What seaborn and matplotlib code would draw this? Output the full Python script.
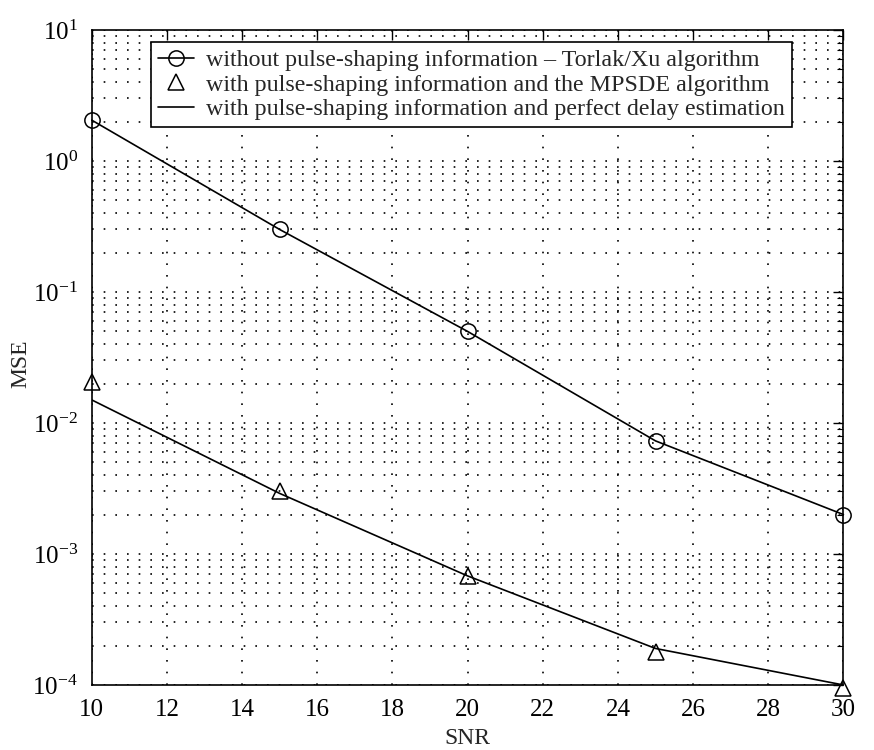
import numpy as np
import pandas as pd
import matplotlib
matplotlib.use("Agg")
import matplotlib.pyplot as plt
import seaborn as sns
from matplotlib.lines import Line2D
from matplotlib.ticker import LogLocator, NullFormatter, FixedLocator, FuncFormatter

# ---- data ----
snr = [10, 15, 20, 25, 30]
mse_torlak_xu = [2.05, 0.30, 0.050, 0.0073, 0.0020]
mse_mpsde = [0.0205, 0.0030, 0.00068, 0.00018, 0.000095]
mse_perfect = [0.0150, 0.0029, 0.00068, 0.00019, 0.000100]

labels = [
    "without pulse-shaping information \u2013 Torlak/Xu algorithm",
    "with pulse-shaping information and the MPSDE algorithm",
    "with pulse-shaping information and perfect delay estimation",
]
x_ticks = [10, 12, 14, 16, 18, 20, 22, 24, 26, 28, 30]

df = pd.DataFrame({"SNR": snr, "torlak": mse_torlak_xu,
                   "mpsde": mse_mpsde, "perfect": mse_perfect})

sns.set_theme(style="white")
plt.rcParams["font.family"] = ["Liberation Serif", "DejaVu Serif"]
plt.rcParams["mathtext.fontset"] = "custom"
plt.rcParams["mathtext.rm"] = "Liberation Serif"
plt.rcParams["mathtext.it"] = "Liberation Serif:italic"

fig = plt.figure(figsize=(8.74, 7.5), dpi=100)
ax = fig.add_axes([0.105, 0.0867, 0.86, 0.8733])

lw = 1.2
sns.lineplot(data=df, x="SNR", y="torlak", ax=ax, color="black", lw=lw,
             marker="o", markersize=11, markerfacecolor="none",
             markeredgecolor="black", markeredgewidth=1.1, clip_on=False)
sns.lineplot(data=df, x="SNR", y="perfect", ax=ax, color="black", lw=lw)
sns.lineplot(data=df, x="SNR", y="mpsde", ax=ax, color="black", lw=0,
             linestyle="none", marker="^", markersize=11,
             markerfacecolor="none", markeredgecolor="black",
             markeredgewidth=1.1, clip_on=False)

ax.set_yscale("log")
ax.set_xlim(10, 30)
ax.set_ylim(1e-4, 1e1)
ax.xaxis.set_major_locator(FixedLocator(x_ticks))
ax.set_xticklabels([str(t) for t in x_ticks])
ax.yaxis.set_major_locator(LogLocator(base=10, numticks=10))
ax.yaxis.set_major_formatter(FuncFormatter(
    lambda v, p: r"$\mathregular{10^{%d}}$" % int(round(np.log10(v)))))
ax.yaxis.set_minor_locator(LogLocator(base=10, subs=np.arange(2, 10), numticks=20))
ax.yaxis.set_minor_formatter(NullFormatter())

dots = (0, (1, 6))
ax.grid(True, which="major", axis="both", color="black", linestyle=dots, lw=1.2)
ax.grid(True, which="minor", axis="y", color="black", linestyle=dots, lw=1.2)

for s in ax.spines.values():
    s.set_color("black")
    s.set_linewidth(1.2)

ax.tick_params(axis="both", which="both", direction="in", top=True, right=True,
               colors="black", labelsize=18)
ax.tick_params(axis="both", which="major", length=7, width=1, pad=10)
ax.tick_params(axis="y", which="minor", length=4, width=0.8)

ax.set_xlabel("SNR", fontsize=17)
ax.xaxis.set_label_coords(0.5, -0.065)
ax.set_ylabel("MSE", fontsize=17)
ax.yaxis.set_label_coords(-0.080, 0.49)

handles = [
    Line2D([], [], color="black", lw=lw, marker="o", markersize=11,
           markerfacecolor="none", markeredgewidth=1.1),
    Line2D([], [], color="black", lw=0, marker="^", markersize=11,
           markerfacecolor="none", markeredgewidth=1.1),
    Line2D([], [], color="black", lw=lw),
]
leg = ax.legend(handles, labels, loc="upper right", bbox_to_anchor=(0.932, 0.981),
                fontsize=17.3, frameon=True, fancybox=False, framealpha=1,
                edgecolor="black", handlelength=1.5, handletextpad=0.5,
                borderpad=0.3, labelspacing=0.1, borderaxespad=0)
leg.get_frame().set_linewidth(1.2)

fig.savefig("out.png", dpi=100, facecolor="white")
